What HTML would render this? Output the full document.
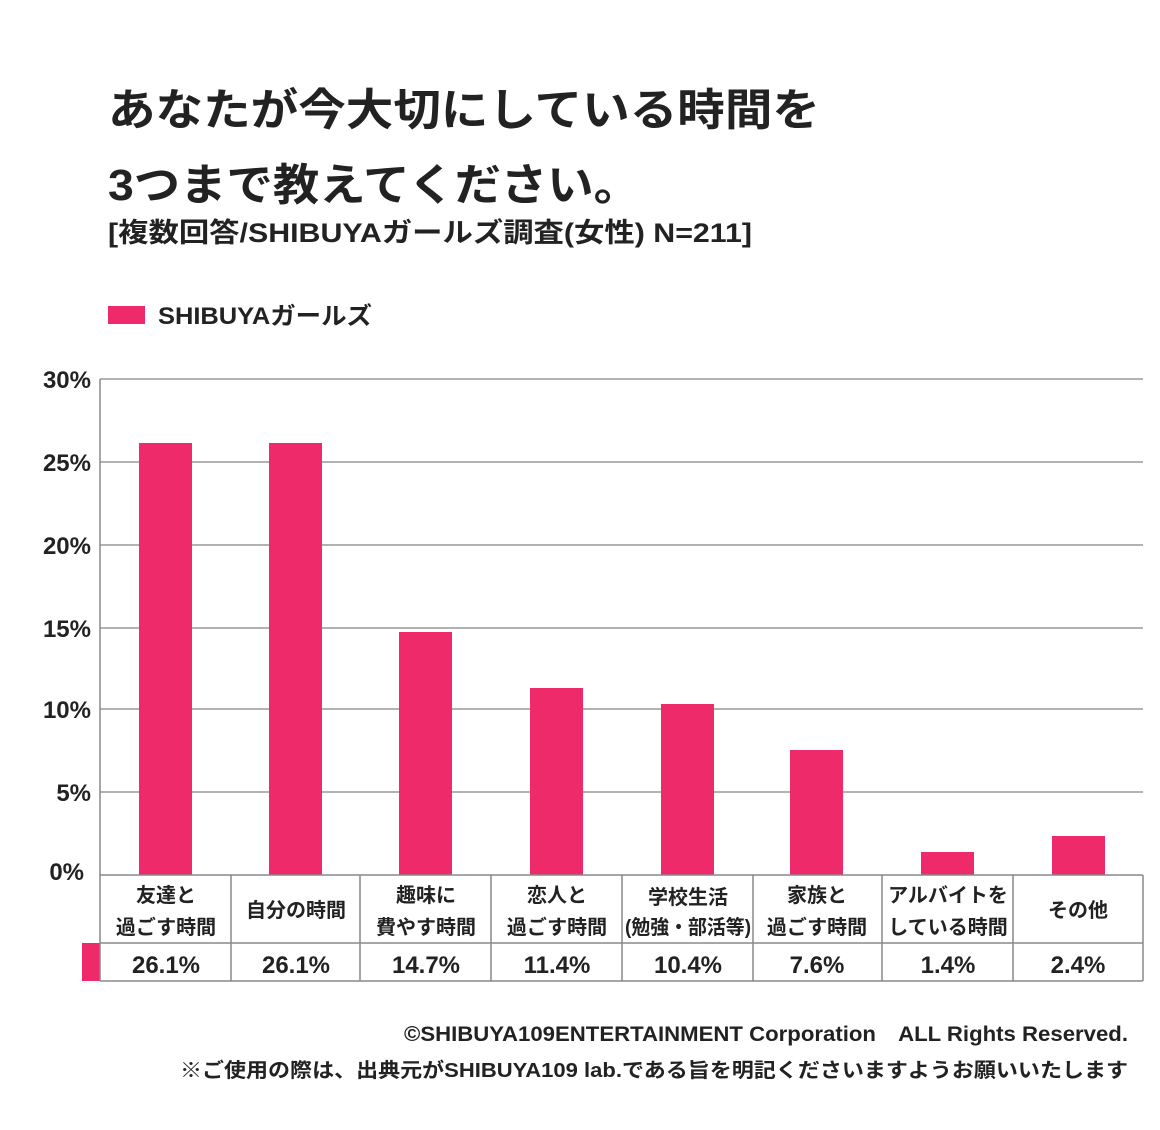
<!DOCTYPE html>
<html><head><meta charset="utf-8"><style>
body{margin:0;background:#fff;}
svg text{font-family:"Liberation Sans","Noto Sans CJK JP",sans-serif;fill:#222;}
</style></head><body>
<svg width="1160" height="1125" viewBox="0 0 1160 1125" xmlns="http://www.w3.org/2000/svg">
<rect width="1160" height="1125" fill="#fff"/>
<text x="108" y="125" font-size="44" font-weight="bold" textLength="712" lengthAdjust="spacingAndGlyphs">あなたが今大切にしている時間を</text>
<text x="108" y="200" font-size="44" font-weight="bold" textLength="532" lengthAdjust="spacingAndGlyphs">3つまで教えてください。</text>
<text x="108" y="242" font-size="27" font-weight="bold" textLength="644" lengthAdjust="spacingAndGlyphs">[複数回答/SHIBUYAガールズ調査(女性) N=211]</text>
<rect x="108" y="306" width="37" height="18" fill="#ee2a6b"/>
<text x="158" y="324" font-size="24" font-weight="bold" textLength="214" lengthAdjust="spacingAndGlyphs">SHIBUYAガールズ</text>
<g stroke="#999" stroke-width="1.5">
<line x1="100" y1="379" x2="1143" y2="379"/>
<line x1="100" y1="462" x2="1143" y2="462"/>
<line x1="100" y1="545" x2="1143" y2="545"/>
<line x1="100" y1="628" x2="1143" y2="628"/>
<line x1="100" y1="709" x2="1143" y2="709"/>
<line x1="100" y1="792" x2="1143" y2="792"/>
</g>
<g font-size="24" font-weight="bold" text-anchor="end">
<text x="91" y="388">30%</text><text x="91" y="471">25%</text><text x="91" y="554">20%</text>
<text x="91" y="637">15%</text><text x="91" y="718">10%</text><text x="91" y="801">5%</text><text x="84" y="880">0%</text>
</g>
<g fill="#ee2a6b">
<rect x="139" y="443" width="53" height="432"/>
<rect x="269" y="443" width="53" height="432"/>
<rect x="399" y="632" width="53" height="243"/>
<rect x="530" y="688" width="53" height="187"/>
<rect x="661" y="704" width="53" height="171"/>
<rect x="790" y="750" width="53" height="125"/>
<rect x="921" y="852" width="53" height="23"/>
<rect x="1052" y="836" width="53" height="39"/>
<rect x="82" y="943" width="18" height="38"/>
</g>
<g stroke="#888" stroke-width="1.5" fill="none">
<line x1="100" y1="379" x2="100" y2="981"/>
<line x1="100" y1="875" x2="1143" y2="875"/>
<line x1="100" y1="943" x2="1143" y2="943"/>
<line x1="100" y1="981" x2="1143" y2="981"/>
<line x1="1143" y1="875" x2="1143" y2="981"/>
<line x1="231" y1="875" x2="231" y2="981"/>
<line x1="360" y1="875" x2="360" y2="981"/>
<line x1="491" y1="875" x2="491" y2="981"/>
<line x1="622" y1="875" x2="622" y2="981"/>
<line x1="753" y1="875" x2="753" y2="981"/>
<line x1="882" y1="875" x2="882" y2="981"/>
<line x1="1013" y1="875" x2="1013" y2="981"/>
</g>
<g font-size="20" font-weight="bold" text-anchor="middle">
<text x="166" y="902">友達と</text><text x="166" y="934">過ごす時間</text>
<text x="296" y="917">自分の時間</text>
<text x="426" y="902">趣味に</text><text x="426" y="934">費やす時間</text>
<text x="557" y="902">恋人と</text><text x="557" y="934">過ごす時間</text>
<text x="688" y="904">学校生活</text><text x="688" y="934" textLength="126" lengthAdjust="spacingAndGlyphs">(勉強・部活等)</text>
<text x="817" y="902">家族と</text><text x="817" y="934">過ごす時間</text>
<text x="948" y="902">アルバイトを</text><text x="948" y="934">している時間</text>
<text x="1078" y="917">その他</text>
</g>
<g font-size="24" font-weight="bold" text-anchor="middle">
<text x="166" y="973">26.1%</text><text x="296" y="973">26.1%</text><text x="426" y="973">14.7%</text>
<text x="557" y="973">11.4%</text><text x="688" y="973">10.4%</text><text x="817" y="973">7.6%</text>
<text x="948" y="973">1.4%</text><text x="1078" y="973">2.4%</text>
</g>
<text x="404" y="1041" font-size="21" font-weight="bold" textLength="724" lengthAdjust="spacingAndGlyphs">©SHIBUYA109ENTERTAINMENT Corporation　ALL Rights Reserved.</text>
<text x="180" y="1077" font-size="20" font-weight="bold" textLength="948" lengthAdjust="spacingAndGlyphs">※ご使用の際は、出典元がSHIBUYA109 lab.である旨を明記くださいますようお願いいたします</text>
</svg>
</body></html>
